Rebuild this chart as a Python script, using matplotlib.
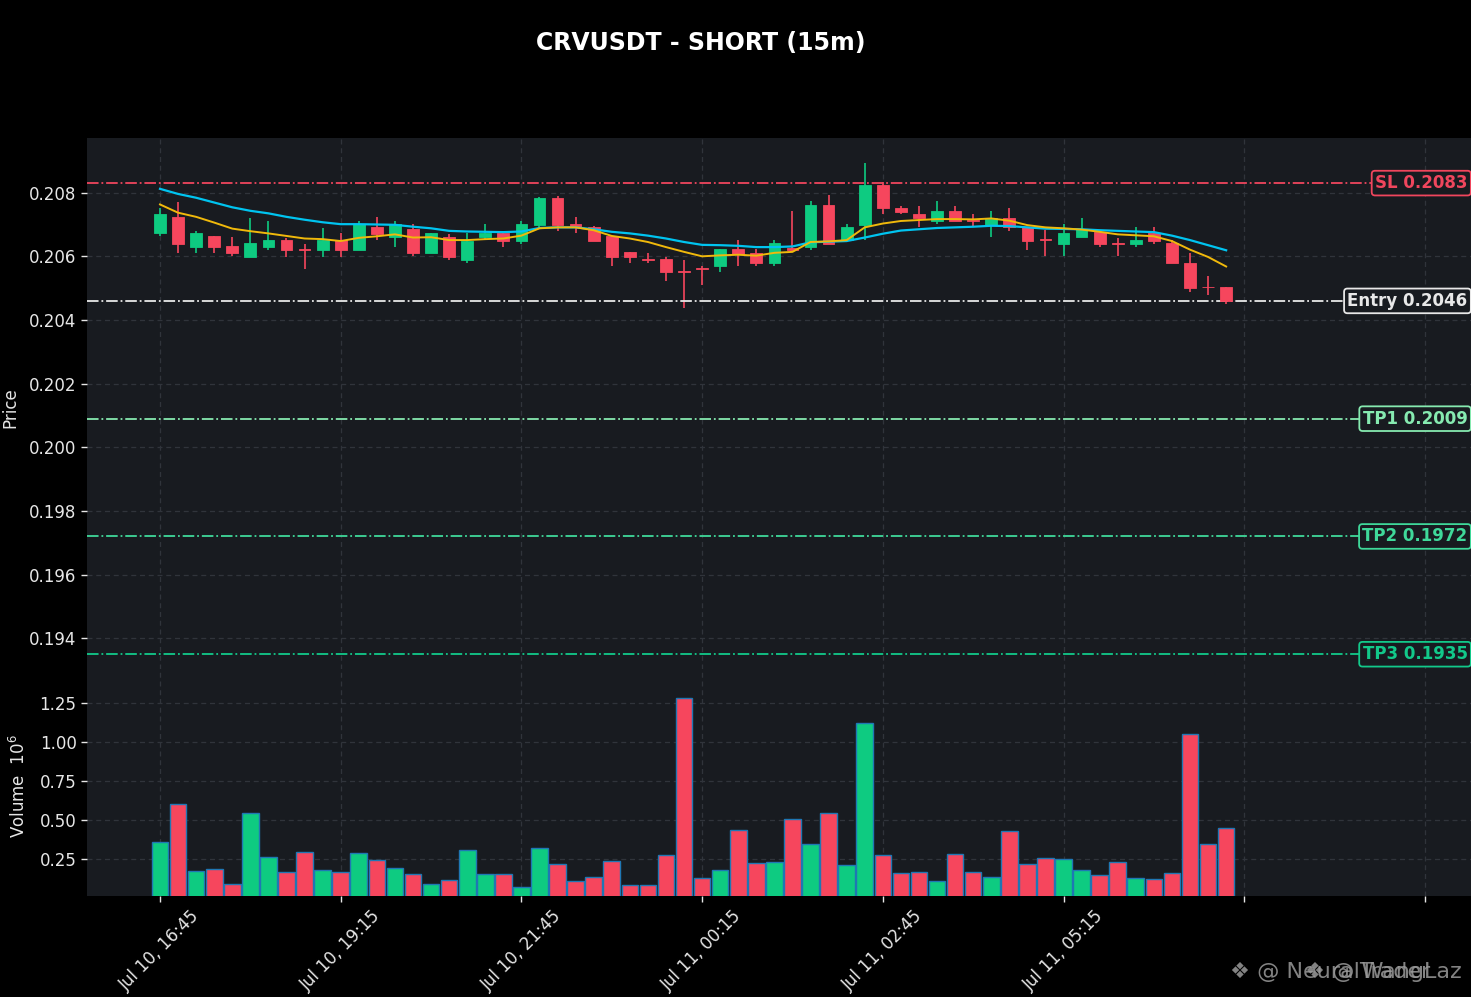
import matplotlib
matplotlib.use('Agg')
import matplotlib.pyplot as plt
import matplotlib.transforms as mtransforms
import numpy as np

# ---------------- data ----------------
opens = [0.20672, 0.20724, 0.20629, 0.20663, 0.20632, 0.20597, 0.20629, 0.20651, 0.20622, 0.20620,
         0.20651, 0.20620, 0.20691, 0.20661, 0.20687, 0.20611, 0.20662, 0.20587, 0.20661, 0.20672,
         0.20648, 0.20698, 0.20783, 0.20701, 0.20691, 0.20663, 0.20613, 0.20592, 0.20591, 0.20553,
         0.20563, 0.20569, 0.20622, 0.20612, 0.20579, 0.20625, 0.20629, 0.20760, 0.20651, 0.20698,
         0.20824, 0.20751, 0.20732, 0.20712, 0.20742, 0.20714, 0.20698, 0.20721, 0.20691, 0.20652,
         0.20639, 0.20661, 0.20677, 0.20641, 0.20639, 0.20672, 0.20641, 0.20580, 0.20504, 0.20503]
highs = [0.20751, 0.20772, 0.20681, 0.20663, 0.20661, 0.20721, 0.20712, 0.20659, 0.20639, 0.20690,
         0.20672, 0.20712, 0.20722, 0.20712, 0.20701, 0.20672, 0.20669, 0.20672, 0.20701, 0.20681,
         0.20712, 0.20787, 0.20791, 0.20722, 0.20695, 0.20663, 0.20613, 0.20611, 0.20598, 0.20589,
         0.20571, 0.20622, 0.20651, 0.20622, 0.20651, 0.20742, 0.20773, 0.20793, 0.20701, 0.20893,
         0.20833, 0.20759, 0.20759, 0.20773, 0.20759, 0.20732, 0.20742, 0.20751, 0.20691, 0.20682,
         0.20701, 0.20721, 0.20682, 0.20659, 0.20691, 0.20691, 0.20651, 0.20611, 0.20539, 0.20503]
lows = [0.20663, 0.20612, 0.20612, 0.20612, 0.20600, 0.20597, 0.20621, 0.20599, 0.20561, 0.20599,
        0.20599, 0.20620, 0.20651, 0.20629, 0.20600, 0.20611, 0.20589, 0.20580, 0.20651, 0.20629,
        0.20640, 0.20685, 0.20681, 0.20672, 0.20648, 0.20571, 0.20580, 0.20580, 0.20521, 0.20438,
        0.20511, 0.20551, 0.20571, 0.20571, 0.20571, 0.20615, 0.20621, 0.20638, 0.20648, 0.20651,
        0.20732, 0.20732, 0.20691, 0.20701, 0.20712, 0.20693, 0.20661, 0.20680, 0.20621, 0.20600,
        0.20600, 0.20661, 0.20629, 0.20600, 0.20629, 0.20639, 0.20579, 0.20487, 0.20479, 0.20451]
closes = [0.20733, 0.20639, 0.20673, 0.20629, 0.20611, 0.20641, 0.20651, 0.20620, 0.20620, 0.20651,
          0.20620, 0.20701, 0.20671, 0.20701, 0.20611, 0.20672, 0.20597, 0.20648, 0.20672, 0.20648,
          0.20701, 0.20783, 0.20698, 0.20691, 0.20648, 0.20597, 0.20597, 0.20590, 0.20551, 0.20551,
          0.20561, 0.20622, 0.20608, 0.20579, 0.20641, 0.20620, 0.20760, 0.20638, 0.20691, 0.20824,
          0.20751, 0.20740, 0.20721, 0.20742, 0.20712, 0.20712, 0.20721, 0.20691, 0.20648, 0.20651,
          0.20672, 0.20687, 0.20639, 0.20640, 0.20651, 0.20648, 0.20579, 0.20500, 0.20503, 0.20459]
volumes_m = [0.359, 0.603, 0.173, 0.186, 0.090, 0.545, 0.263, 0.167, 0.295, 0.179,
             0.167, 0.288, 0.244, 0.192, 0.154, 0.090, 0.115, 0.308, 0.154, 0.154,
             0.071, 0.321, 0.218, 0.109, 0.135, 0.237, 0.083, 0.083, 0.276, 1.282,
             0.128, 0.179, 0.436, 0.224, 0.231, 0.506, 0.346, 0.545, 0.212, 1.122,
             0.276, 0.160, 0.167, 0.109, 0.282, 0.167, 0.135, 0.429, 0.218, 0.256,
             0.250, 0.179, 0.147, 0.231, 0.128, 0.122, 0.160, 1.051, 0.346, 0.449]
ma_slow = [0.20812, 0.20796, 0.20784, 0.20769, 0.20754, 0.20743, 0.20735, 0.20724, 0.20715, 0.20707,
           0.20701, 0.20701, 0.20700, 0.20699, 0.20693, 0.20688, 0.20680, 0.20678, 0.20677, 0.20676,
           0.20678, 0.20689, 0.20691, 0.20691, 0.20685, 0.20677, 0.20672, 0.20665, 0.20656, 0.20645,
           0.20636, 0.20635, 0.20633, 0.20629, 0.20629, 0.20631, 0.20644, 0.20646, 0.20648, 0.20659,
           0.20671, 0.20681, 0.20685, 0.20689, 0.20691, 0.20693, 0.20696, 0.20695, 0.20691, 0.20687,
           0.20686, 0.20685, 0.20682, 0.20680, 0.20678, 0.20676, 0.20665, 0.20651, 0.20635, 0.20619]
ma_fast = [0.20763, 0.20737, 0.20724, 0.20706, 0.20687, 0.20679, 0.20672, 0.20664, 0.20656, 0.20654,
           0.20648, 0.20658, 0.20663, 0.20669, 0.20659, 0.20660, 0.20651, 0.20651, 0.20654, 0.20656,
           0.20665, 0.20688, 0.20691, 0.20691, 0.20682, 0.20664, 0.20656, 0.20645, 0.20629, 0.20614,
           0.20600, 0.20603, 0.20605, 0.20602, 0.20611, 0.20614, 0.20645, 0.20647, 0.20651, 0.20691,
           0.20703, 0.20711, 0.20714, 0.20717, 0.20717, 0.20716, 0.20719, 0.20712, 0.20698, 0.20691,
           0.20688, 0.20684, 0.20677, 0.20669, 0.20666, 0.20663, 0.20648, 0.20621, 0.20598, 0.20568]
tick_pos = [0, 10, 20, 30, 40, 50, 60, 70]
tick_labels = ["Jul 10, 16:45", "Jul 10, 19:15", "Jul 10, 21:45", "Jul 11, 00:15",
               "Jul 11, 02:45", "Jul 11, 05:15", "", ""]
level_names = ["SL", "Entry", "TP1", "TP2", "TP3"]
level_values = [0.2083, 0.2046, 0.2009, 0.1972, 0.1935]
level_colors = ["#f0465d", "#e8e8e8", "#86eab0", "#3fd99a", "#12c98a"]
title = "CRVUSDT - SHORT (15m)"

# ---------------- style ----------------
BG = "black"
AX_BG = "#181b20"
GREEN = "#0ecb81"
RED = "#f6465d"
GRID = "#30343b"
TXT = "#e6e6e6"

W, H = 1471, 997
fig = plt.figure(figsize=(W / 100, H / 100), dpi=100, facecolor=BG)


def rect(l, t, r, b):
    return [l / W, 1 - b / H, (r - l) / W, (b - t) / H]


ax = fig.add_axes(rect(87, 138, 1471, 669))
axv = fig.add_axes(rect(87, 669, 1471, 896), sharex=ax)

x = np.arange(len(opens))
o = np.array(opens); c = np.array(closes); h = np.array(highs); l = np.array(lows)
up = c >= o
cols = [GREEN if u else RED for u in up]

for a in (ax, axv):
    a.set_facecolor(AX_BG)
    for s in a.spines.values():
        s.set_visible(False)
    a.grid(True, color=GRID, linestyle=(0, (4, 3)), linewidth=0.9)
    a.set_axisbelow(True)
    a.tick_params(colors=TXT, labelsize=12, length=4, width=1)

# candles
ax.vlines(x, l, h, colors=cols, linewidth=1.2, zorder=2)
body_bottom = np.minimum(o, c)
body_h = np.maximum(np.abs(c - o), 0.00002)
ax.bar(x, body_h, bottom=body_bottom, width=0.65, color=cols, edgecolor=cols,
       linewidth=0.6, zorder=3)

# moving averages
ax.plot(x, ma_slow, color="#00c4f0", linewidth=1.6, zorder=4)
ax.plot(x, ma_fast, color="#f0b90b", linewidth=1.4, zorder=4)

# levels
trans = mtransforms.blended_transform_factory(ax.transAxes, ax.transData)
for name, val, col in zip(level_names, level_values, level_colors):
    ax.axhline(val, color=col, linestyle="-.", linewidth=1.3, zorder=2)
    ax.text(0.9975, val, f"{name} {val:.4f}", transform=trans, ha="right", va="center",
            color=col, fontsize=12, fontweight="bold", zorder=6,
            bbox=dict(boxstyle="round,pad=0.2", facecolor=AX_BG, edgecolor=col, linewidth=1.3))

ax.set_xlim(-4.04, 72.55)
ax.set_ylim(0.193036, 0.209717)
yt = [0.194, 0.196, 0.198, 0.200, 0.202, 0.204, 0.206, 0.208]
ax.set_yticks(yt)
ax.set_yticklabels([f"{v:.3f}" for v in yt])
ax.tick_params(axis="x", bottom=False, labelbottom=False)

# volume
axv.bar(x, volumes_m, width=0.92, color=cols, edgecolor="#1f77b4", linewidth=1.0, zorder=3)
axv.set_ylim(0.015, 1.47)
axv.set_yticks([0.25, 0.50, 0.75, 1.00, 1.25])
axv.set_yticklabels(["0.25", "0.50", "0.75", "1.00", "1.25"])
axv.set_xticks(tick_pos)
axv.set_xticklabels(tick_labels, rotation=45, ha="center")
axv.tick_params(axis="x", pad=4)

# labels
fig.text(10 / W, 1 - 408 / H, "Price", rotation=90, ha="center", va="center",
         color=TXT, fontsize=12)
fig.text(19 / W, 1 - 786 / H, "Volume  $10^{6}$", rotation=90, ha="center", va="center",
         color=TXT, fontsize=12)
fig.text(701 / W, 1 - 43 / H, title, ha="center", va="center", color="white",
         fontsize=17, fontweight="bold")

# watermark (two overlapping handles, as in the reference)
fig.text(1230 / W, 1 - 972 / H, "\u2756 @ NeuralTrader", ha="left", va="center",
         color="#9a9a9a", fontsize=16, alpha=0.85)
fig.text(1462 / W, 1 - 972 / H, "\u2756 @ WangLaz", ha="right", va="center",
         color="#9a9a9a", fontsize=16, alpha=0.85)

fig.savefig("out.png", dpi=100, facecolor=BG)
